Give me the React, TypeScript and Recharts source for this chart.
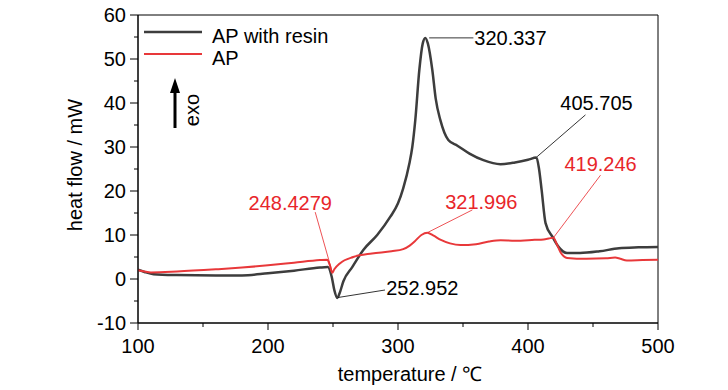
import { Line, LineChart, ReferenceArea, ReferenceDot, ReferenceLine, XAxis, YAxis } from "recharts";

// AP with resin (temperature °C, heat flow mW)
const resinT = [100, 105, 112, 130, 160, 180, 200, 220, 240, 246, 249, 251, 253.3, 255, 258, 264.8, 273.3, 284, 294, 300, 304, 308.7, 311, 313.3, 316.4, 319, 321, 323, 326.4, 329, 332.6, 338.7, 345.7, 355, 365.7, 378.8, 390, 400, 406.5, 408.5, 410.5, 413.5, 419, 423.5, 430, 440, 455, 470, 485, 500];
const resinV = [2.1, 1.6, 1.1, 0.9, 0.8, 0.8, 1.3, 1.9, 2.6, 2.7, 0.5, -2.5, -4.3, -3.3, -0.5, 2.7, 6.6, 10.0, 14.1, 17.2, 20.6, 26.2, 30, 36.1, 47.5, 53.5, 54.8, 53.5, 47.5, 41, 36.1, 31.6, 30.3, 28.5, 27, 26.1, 26.5, 27.1, 27.6, 25, 20.2, 12.7, 9.5, 7.3, 5.9, 5.9, 6.3, 7, 7.2, 7.3];

// AP
const apT = [100, 105, 110, 130, 160, 180, 200, 220, 240, 245.5, 247.5, 249.4, 251, 255.5, 265.6, 280, 295, 304, 309, 313, 318, 322.6, 327, 333, 340, 348, 360, 370, 379, 390, 405, 412, 416, 419.6, 422, 425, 430, 445, 460, 467, 471, 476, 488, 500];
const apV = [2.0, 1.7, 1.5, 1.7, 2.2, 2.6, 3.1, 3.7, 4.3, 4.4, 3.2, 1.4, 2.2, 3.6, 5.0, 5.8, 6.3, 6.8, 7.6, 8.6, 10.0, 10.5, 9.9, 8.9, 8.1, 7.7, 7.9, 8.5, 8.8, 8.7, 8.9, 9.0, 9.2, 9.4, 8.0, 6.1, 4.8, 4.6, 4.7, 4.9, 4.6, 4.2, 4.3, 4.4];

const xTicks = [100, 150, 200, 250, 300, 350, 400, 450, 500];
const yTicks = [-10, -5, 0, 5, 10, 15, 20, 25, 30, 35, 40, 45, 50, 55, 60];

// peak annotations: text, where the leader starts, where it ends, text centre
const annoText = ["320.337", "405.705", "419.246", "321.996", "248.4279", "252.952"];
const annoColor = ["#000", "#000", "#e8262a", "#e8262a", "#e8262a", "#000"];
const annoFrom = [[324, 54.8], [407, 27.8], [419.6, 9.4], [323, 10.6], [249.4, 1.6], [254, -4.2]];
const annoTo = [[358, 54.8], [444.2, 37.3], [455.8, 23.6], [357.2, 15.7], [236.3, 15.2], [290, -2.5]];
const annoAt = [[386.5, 54.8], [452.7, 40], [455.8, 26.2], [364.1, 17.5], [217.1, 17.3], [318.7, -2]];

const resinData = resinT.map((t, i) => ({ t, v: resinV[i] }));
const apData = apT.map((t, i) => ({ t, v: apV[i] }));

const FONT = "'Liberation Sans', Arial, sans-serif";
const BLACK = "#3d3d3d";
const RED = "#e8383a";

function YTick(props: any) {
  const { x, y, payload } = props;
  const v = payload.value as number;
  const major = v % 10 === 0;
  const ax = x + 13;
  return (
    <g>
      <line x1={ax - (major ? 8 : 4)} x2={ax} y1={y} y2={y} stroke="#000" strokeWidth={1} />
      {major ? (
        <text x={ax - 12} y={y} dy="0.36em" textAnchor="end" fontSize={20} fontFamily={FONT} fill="#000">
          {v}
        </text>
      ) : null}
    </g>
  );
}

function XTick(props: any) {
  const { x, y, payload } = props;
  const v = payload.value as number;
  const major = v % 100 === 0;
  const ay = y - 13;
  return (
    <g>
      <line x1={x} x2={x} y1={ay} y2={ay + (major ? 7 : 4)} stroke="#000" strokeWidth={1} />
      {major ? (
        <text x={x} y={ay + 30} textAnchor="middle" fontSize={20} fontFamily={FONT} fill="#000">
          {v}
        </text>
      ) : null}
    </g>
  );
}

export default function App() {
  return (
    <div style={{ position: "absolute", left: 0, top: 0, width: 728, height: 390, background: "#fff" }}>
      <LineChart width={728} height={390} data={resinData} margin={{ top: 15, right: 70, bottom: 0, left: 0 }}>
        <XAxis
          dataKey="t"
          type="number"
          domain={[100, 500]}
          ticks={xTicks}
          allowDataOverflow
          height={67}
          stroke="#000"
          tickSize={8}
          tickMargin={5}
          tickLine={false}
          tick={<XTick />}
        />
        <YAxis
          type="number"
          domain={[-10, 60]}
          ticks={yTicks}
          allowDataOverflow
          width={138}
          stroke="#000"
          tickSize={8}
          tickMargin={5}
          tickLine={false}
          tick={<YTick />}
          interval={0}
        />
        <ReferenceArea x1={100} x2={500} y1={-10} y2={60} fill="none" stroke="#000" strokeWidth={1} fillOpacity={0} />
        <Line
          data={resinData}
          dataKey="v"
          type="monotone"
          stroke={BLACK}
          strokeWidth={2.5}
          dot={false}
          isAnimationActive={false}
        />
        <Line
          data={apData}
          dataKey="v"
          type="monotone"
          stroke={RED}
          strokeWidth={2}
          dot={false}
          isAnimationActive={false}
        />
        {annoText.map((txt, i) => (
          <ReferenceLine
            key={`l${i}`}
            segment={[
              { x: annoFrom[i][0], y: annoFrom[i][1] },
              { x: annoTo[i][0], y: annoTo[i][1] },
            ]}
            stroke={annoColor[i]}
            strokeWidth={0.8}
          />
        ))}
        {annoText.map((txt, i) => (
          <ReferenceDot
            key={`d${i}`}
            x={annoAt[i][0]}
            y={annoAt[i][1]}
            r={0}
            fill="none"
            stroke="none"
            label={{
              value: txt,
              position: "center",
              fill: annoColor[i],
              fontSize: 20,
              fontFamily: FONT,
            }}
          />
        ))}
      </LineChart>
      <svg
        width={728}
        height={390}
        style={{ position: "absolute", left: 0, top: 0, pointerEvents: "none" }}
        fontFamily={FONT}
      >
        <line x1={144} x2={202} y1={32} y2={32} stroke={BLACK} strokeWidth={2.5} />
        <text x={212} y={43} fontSize={20} fill="#000">AP with resin</text>
        <line x1={144} x2={202} y1={54} y2={54} stroke={RED} strokeWidth={2} />
        <text x={212} y={65} fontSize={20} fill="#000">AP</text>
        <line x1={175} x2={175} y1={128} y2={90} stroke="#000" strokeWidth={3} />
        <polygon points="175,78 170,93 180,93" fill="#000" />
        <text x={192} y={110} fontSize={20} fill="#000" textAnchor="middle" dominantBaseline="central" transform="rotate(-90 192 110)">
          exo
        </text>
        <text x={75} y={165} fontSize={20} fill="#000" textAnchor="middle" dominantBaseline="central" transform="rotate(-90 75 165)">
          heat flow / mW
        </text>
        <text x={410} y={381} fontSize={20} fill="#000" textAnchor="middle">
          temperature / ℃
        </text>
      </svg>
    </div>
  );
}
